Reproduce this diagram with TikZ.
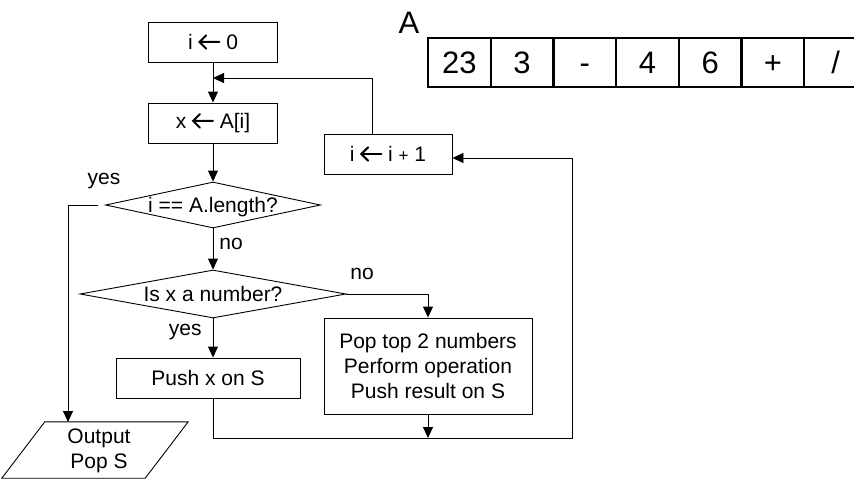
\documentclass[tikz,border=0pt]{standalone}
\usepackage{fontspec}
\setmainfont{Liberation Sans}
\usetikzlibrary{arrows.meta,shapes.geometric}

% left arrow used for assignments
\newcommand\lar{\tikz[baseline=-0.36em]\draw[line width=0.095em,line cap=round,line join=miter]
  (0.32em,0.32em)--(0,0)--(0.32em,-0.32em) (0,0)--(0.95em,0);}
% text centred in a decision node without widening it
\newcommand\dtext[1]{\smash{\raisebox{-0.358em}{\makebox[0pt]{#1}}}}

\tikzset{
  base/.style={font=\fontsize{21}{25}\selectfont},
  box/.style={base, draw, line width=0.9pt, minimum height=40pt, inner sep=0pt},
  decision/.style={base, draw, shape=diamond, line width=0.9pt, inner sep=0pt},
  lbl/.style={base, inner sep=0pt},
  cell/.style={draw, line width=2.2pt, minimum width=62.7pt, minimum height=49pt,
    inner sep=0pt, text height=22pt, text depth=0pt, font=\fontsize{31}{31}\selectfont},
  conn/.style={line width=0.9pt},
  flow/.style={conn, -{Triangle[length=11pt,width=10pt]}},
}

\begin{document}
\begin{tikzpicture}[x=1pt, y=-1pt]
  \useasboundingbox (0,0) rectangle (854,479);

  % array A
  \node[lbl, font=\fontsize{31}{31}\selectfont] (alabel) at (409,23) {A};
  \foreach \t [count=\i from 0] in {23,3,-,4,6,+,/}
    \node[cell] (c\i) at ({459.35+62.7*\i},62.5) {\t};

  % flowchart nodes
  \node[box, minimum width=129pt] (init)  at (213,42)  {i \lar{} 0};
  \node[box, minimum width=129pt] (fetch) at (213,123) {x \lar{} A[i]};
  \node[box, minimum width=128pt] (inc)   at (388,154) {i \lar{} i {\fontsize{17}{17}\selectfont +} 1};
  \node[decision, minimum width=215pt, minimum height=46pt] (end) at (213,205) {\dtext{i == A.length?}};
  \node[decision, minimum width=266pt, minimum height=48pt] (num) at (213,294) {\dtext{Is x a number?}};
  \node[box, minimum width=184pt] (push) at (208,378) {Push x on S};
  \node[box, minimum width=208pt, minimum height=96pt, align=center] (calc) at (428,366)
    {Pop top 2 numbers\\Perform operation\\Push result on S};

  % output parallelogram
  \node[minimum width=186pt, minimum height=56pt, inner sep=0pt] (out) at (95,450) {};
  \draw[conn] ([xshift=43pt]out.north west) -- (out.north east)
    -- ([xshift=-43pt]out.south east) -- (out.south west) -- cycle;
  \node[lbl, align=center] (outtxt) at (99,451) {Output\\Pop S};

  % junction points
  \coordinate (outtop) at (68,422);
  \coordinate (merge) at (428,438);
  \coordinate (loop) at (572,438);
  \coordinate (join) at (213,78);

  % connectors
  \draw[flow] (init) -- (fetch);
  \draw[flow] (fetch) -- (end);
  \draw[flow] (end) -- node[lbl, anchor=west, pos=0.38, xshift=6pt] (no1) {no} (num);
  \draw[flow] ([xshift=-7pt]end.west) -| (outtop);
  \node[lbl] (yes1) at (104,181) {yes};
  \draw[flow] (num.south) -- node[lbl, anchor=east, pos=0.35, xshift=-11pt] (yes2) {yes} (num.south |- push.north);
  \draw[flow] (num.east) -| (calc.north);
  \node[lbl] (no2) at (362,274) {no};
  \draw[flow] (calc) -- (merge);
  \draw[flow] (num.south |- push.south) |- (loop) |- ([yshift=-4pt]inc.east);
  \draw[flow] ([xshift=-16pt]inc.north) |- (join);
\end{tikzpicture}
\end{document}
